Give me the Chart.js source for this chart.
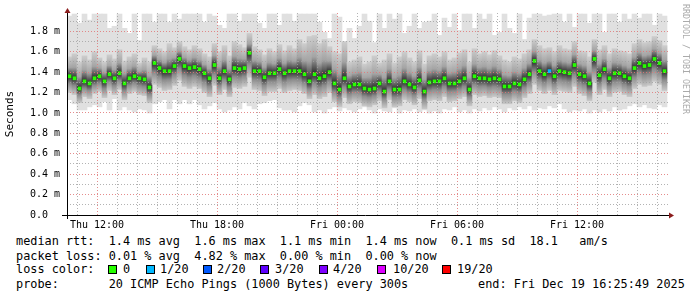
<!DOCTYPE html>
<html lang="en">
<head>
<meta charset="UTF-8">
<title>Smokeping RTT</title>
<script src="https://cdn.jsdelivr.net/npm/chart.js"></script>
<style>
  body { margin: 0; background: #fff; font-family: "DejaVu Sans Mono", monospace; }
  #wrap { position: relative; width: 697px; height: 297px; overflow: hidden; background: #fff; }
  #rtt { position: absolute; left: 0; top: 0; }
  .row { position: absolute; left: 16px; font-size: 11.85px; line-height: 14px; white-space: pre; color: #000; }
  .sw { position: absolute; top: 265px; width: 7px; height: 7px; border: 1px solid #000; }
  .lab { position: absolute; top: 262px; font-size: 11.85px; line-height: 14px; white-space: pre; color: #000; }
  #credit { position: absolute; left: 681px; top: 4px; writing-mode: vertical-rl; font-size: 8.3px; color: #aaa; white-space: pre; }
</style>
</head>
<body>
<div id="wrap">
  <canvas id="rtt" width="697" height="232"></canvas>
  <div id="credit">RRDTOOL / TOBI OETIKER</div>
  <div class="row" style="top:234px">median rtt:  1.4 ms avg  1.6 ms max  1.1 ms min  1.4 ms now  0.1 ms sd  18.1   am/s</div>
  <div class="row" style="top:248.5px">packet loss: 0.01 % avg  4.82 % max  0.00 % min  0.00 % now</div>
  <div class="row" style="top:262px">loss color:</div>
  <span class="sw" style="left:108px;background:#26ff00"></span><span class="lab" style="left:123px">0</span>
  <span class="sw" style="left:146px;background:#00b8ff"></span><span class="lab" style="left:160px">1/20</span>
  <span class="sw" style="left:203px;background:#0059ff"></span><span class="lab" style="left:217px">2/20</span>
  <span class="sw" style="left:260px;background:#5e00ff"></span><span class="lab" style="left:275px">3/20</span>
  <span class="sw" style="left:319px;background:#7e00ff"></span><span class="lab" style="left:333px">4/20</span>
  <span class="sw" style="left:377px;background:#dd00ff"></span><span class="lab" style="left:393px">10/20</span>
  <span class="sw" style="left:442px;background:#ff0000"></span><span class="lab" style="left:457px">19/20</span>
  <div class="row" style="top:276.5px">probe:       20 ICMP Echo Pings (1000 Bytes) every 300s</div>
  <div class="row" style="left:478px;top:276.5px">end: Fri Dec 19 16:25:49 2025</div>
</div>

<script>
// 15 minute steps, hours counted from Thu 00:00, values in 1/100 ms
const startHour = 10.5;
const stepHours = 0.25;

const medianRtt = [
  136,134,124,131,129,134,136,131,138,134,139,129,134,136,134,133,125,149,144,141,141,146,153,146,144,
  145,143,139,134,147,134,141,133,144,143,144,159,141,141,135,139,139,143,139,141,141,141,138,131,
  138,134,136,140,129,123,134,126,128,128,124,123,124,129,121,131,123,123,131,128,125,132,121,130,
  131,131,134,129,129,131,134,123,136,134,134,133,134,133,126,126,129,128,133,138,151,141,138,
  141,136,141,140,139,147,138,136,129,153,137,143,134,139,139,136,134,144,149,146,147,153,149,141
];
const rttMax = [
  195,197,188,197,191,197,197,197,183,185,197,183,178,197,171,197,197,189,197,197,189,197,192,197,197,
  197,197,189,197,195,186,183,197,197,190,197,197,197,188,183,197,197,186,197,197,190,197,197,197,
  197,189,179,173,197,194,169,183,173,185,197,190,169,197,183,197,192,197,178,185,197,183,189,190,
  197,176,193,184,197,181,197,197,183,197,192,197,176,179,197,183,178,197,172,193,197,197,195,
  196,197,197,189,197,184,197,197,188,197,197,179,197,197,189,197,192,197,193,197,197,186,197,195
];
const rttMin = [
  113,109,103,103,106,108,106,111,103,114,103,106,103,101,104,103,100,109,111,113,104,113,109,113,109,
  113,108,104,107,110,104,101,103,106,104,110,107,104,109,110,112,113,105,103,103,101,107,110,108,
  101,103,100,104,106,102,105,103,101,104,106,103,100,104,102,101,105,100,103,102,104,101,103,100,
  102,100,104,103,106,101,103,100,104,102,105,103,106,104,101,105,103,106,104,107,103,105,104,
  107,105,109,104,101,103,102,104,100,103,101,104,102,106,103,104,107,109,106,108,105,104,108,106
];
const rttHigh = [
  155,158,150,156,152,160,154,150,157,153,162,151,155,158,149,154,150,166,163,160,168,164,170,165,162,
  166,163,158,155,168,160,166,156,170,167,164,178,165,162,157,163,160,167,161,166,163,172,168,175,
  176,168,172,165,160,158,170,150,152,155,148,150,156,149,152,158,149,155,160,154,150,161,148,156,
  158,155,160,152,154,159,162,150,163,158,160,157,161,156,152,150,155,153,158,162,172,166,163,
  164,160,166,163,162,170,161,160,155,172,162,166,158,163,161,160,158,168,172,169,170,175,171,166
];
const rttLow = [
  120,118,110,116,114,119,121,115,122,118,123,113,119,121,118,117,110,128,125,122,123,127,132,126,124,
  126,124,120,116,127,118,123,116,125,124,126,135,123,122,117,121,121,124,120,122,123,122,119,114,
  118,114,116,120,111,106,115,109,111,110,107,106,108,112,105,113,106,107,113,111,108,114,104,112,
  113,112,116,111,112,114,116,107,118,116,117,115,116,115,109,109,112,110,115,119,128,122,119,
  122,118,122,121,120,126,119,117,112,130,118,123,116,120,121,118,116,124,128,126,127,131,128,122
];
const lossSteps = [96];
const lossCounts = [1];

const xTickHours = [12, 18, 24, 30, 36];
const xTickLabels = ['Thu 12:00', 'Thu 18:00', 'Fri 00:00', 'Fri 06:00', 'Fri 12:00'];

const ms = v => v / 100;
const stepTime = i => startHour + stepHours * (i + 0.5);

function lossAt(i) {
  const k = lossSteps.indexOf(i);
  return k < 0 ? 0 : lossCounts[k];
}
function lossColor(n) {
  if (n === 0) return '#26ff00';
  if (n === 1) return '#00b8ff';
  if (n === 2) return '#0059ff';
  if (n === 3) return '#5e00ff';
  if (n < 10) return '#7e00ff';
  if (n < 19) return '#dd00ff';
  return '#ff0000';
}

// dark smoke core, darkest at the median
function smokeFill(c) {
  const chart = c.chart;
  const y = chart.scales.y;
  if (c.type !== 'data' || !y) return '#999';
  const i = c.dataIndex;
  const top = y.getPixelForValue(ms(rttHigh[i]));
  const bot = y.getPixelForValue(ms(rttLow[i]));
  const mid = y.getPixelForValue(ms(medianRtt[i]));
  if (!isFinite(top) || !isFinite(bot) || !isFinite(mid) || bot - top < 1) return '#999';
  const t = Math.min(0.95, Math.max(0.05, (mid - top) / (bot - top)));
  const g = chart.ctx.createLinearGradient(0, top, 0, bot);
  g.addColorStop(0, '#cdcdcd');
  g.addColorStop(t * 0.55, '#a4a4a4');
  g.addColorStop(t, '#2a2a2a');
  g.addColorStop(t + (1 - t) * 0.45, '#8c8c8c');
  g.addColorStop(1, '#c8c8c8');
  return g;
}

const gridMajor = 'rgba(225,120,120,0.85)';
const gridMinor = 'rgba(160,160,160,0.8)';
const monoFont = { family: 'DejaVu Sans Mono', size: 10 };

const axisArrows = {
  id: 'axisArrows',
  afterDraw(chart) {
    const { ctx, chartArea: a } = chart;
    ctx.save();
    ctx.strokeStyle = '#000';
    ctx.lineWidth = 1;
    ctx.beginPath();
    ctx.moveTo(62, a.bottom + 0.5);
    ctx.lineTo(a.right + 1, a.bottom + 0.5);
    ctx.moveTo(a.left + 0.5, a.bottom + 4);
    ctx.lineTo(a.left + 0.5, a.top);
    ctx.stroke();
    ctx.fillStyle = '#8b1c1c';
    ctx.beginPath();
    ctx.moveTo(a.right + 1, a.bottom - 2.5);
    ctx.lineTo(a.right + 6, a.bottom + 0.5);
    ctx.lineTo(a.right + 1, a.bottom + 3.5);
    ctx.fill();
    ctx.beginPath();
    ctx.moveTo(a.left - 2.5, a.top);
    ctx.lineTo(a.left + 0.5, a.top - 5);
    ctx.lineTo(a.left + 3.5, a.top);
    ctx.fill();
    ctx.restore();
  }
};

const chart = new Chart(document.getElementById('rtt'), {
  type: 'bar',
  data: {
    datasets: [
      {
        data: medianRtt.map((v, i) => ({ x: stepTime(i), y: [ms(v) - 0.015, ms(v) + 0.015] })),
        backgroundColor: c => c.type === 'data' ? lossColor(lossAt(c.dataIndex)) : '#26ff00',
        barThickness: 3,
        grouped: false,
        order: 1
      },
      {
        data: rttHigh.map((v, i) => ({ x: stepTime(i), y: [ms(rttLow[i]), ms(v)] })),
        backgroundColor: smokeFill,
        barPercentage: 1,
        categoryPercentage: 1,
        grouped: false,
        order: 2
      },
      {
        data: rttMax.map((v, i) => ({ x: stepTime(i), y: [ms(rttMin[i]), ms(v)] })),
        backgroundColor: '#e0e0e0',
        barPercentage: 1,
        categoryPercentage: 1,
        grouped: false,
        order: 3
      }
    ]
  },
  options: {
    responsive: false,
    animation: false,
    devicePixelRatio: 1,
    layout: { padding: { top: 13, right: 29, bottom: 0, left: 0 } },
    plugins: { legend: { display: false }, tooltip: { enabled: false } },
    scales: {
      x: {
        type: 'linear',
        min: 10.5,
        max: 40.55,
        offset: false,
        afterFit: s => { s.height = 17; },
        grid: {
          z: 1,
          offset: false,
          drawTicks: false,
          color: c => (c.tick && c.tick.value % 6 === 0) ? gridMajor : gridMinor
        },
        border: { display: false, dash: [1, 2] },
        ticks: {
          stepSize: 1,
          maxTicksLimit: 100,
          autoSkip: false,
          includeBounds: false,
          maxRotation: 0,
          padding: 4,
          color: '#000',
          font: monoFont,
          callback: v => {
            const k = xTickHours.indexOf(v);
            return k < 0 ? '' : xTickLabels[k];
          }
        }
      },
      y: {
        min: 0,
        max: 1.98,
        afterFit: s => { s.width = 67; },
        grid: {
          z: 1,
          drawTicks: false,
          color: c => (c.tick && Math.round(c.tick.value * 10) % 2 === 0) ? gridMajor : gridMinor
        },
        border: { display: false, dash: [1, 2] },
        ticks: {
          stepSize: 0.1,
          maxTicksLimit: 100,
          autoSkip: false,
          includeBounds: false,
          padding: 7,
          color: '#000',
          font: monoFont,
          callback: v => {
            const n = Math.round(v * 10);
            if (n % 2 !== 0) return '';
            return n === 0 ? '0.0  ' : (n / 10).toFixed(1) + ' m';
          }
        },
        title: {
          display: true,
          text: 'Seconds',
          color: '#000',
          font: { family: 'DejaVu Sans Mono', size: 11 },
          padding: { top: 4, bottom: 0 }
        }
      }
    }
  },
  plugins: [axisArrows]
});
// redraw once the scales have their pixel ranges, so the smoke gradients resolve
chart.update('none');
</script>
</body>
</html>
